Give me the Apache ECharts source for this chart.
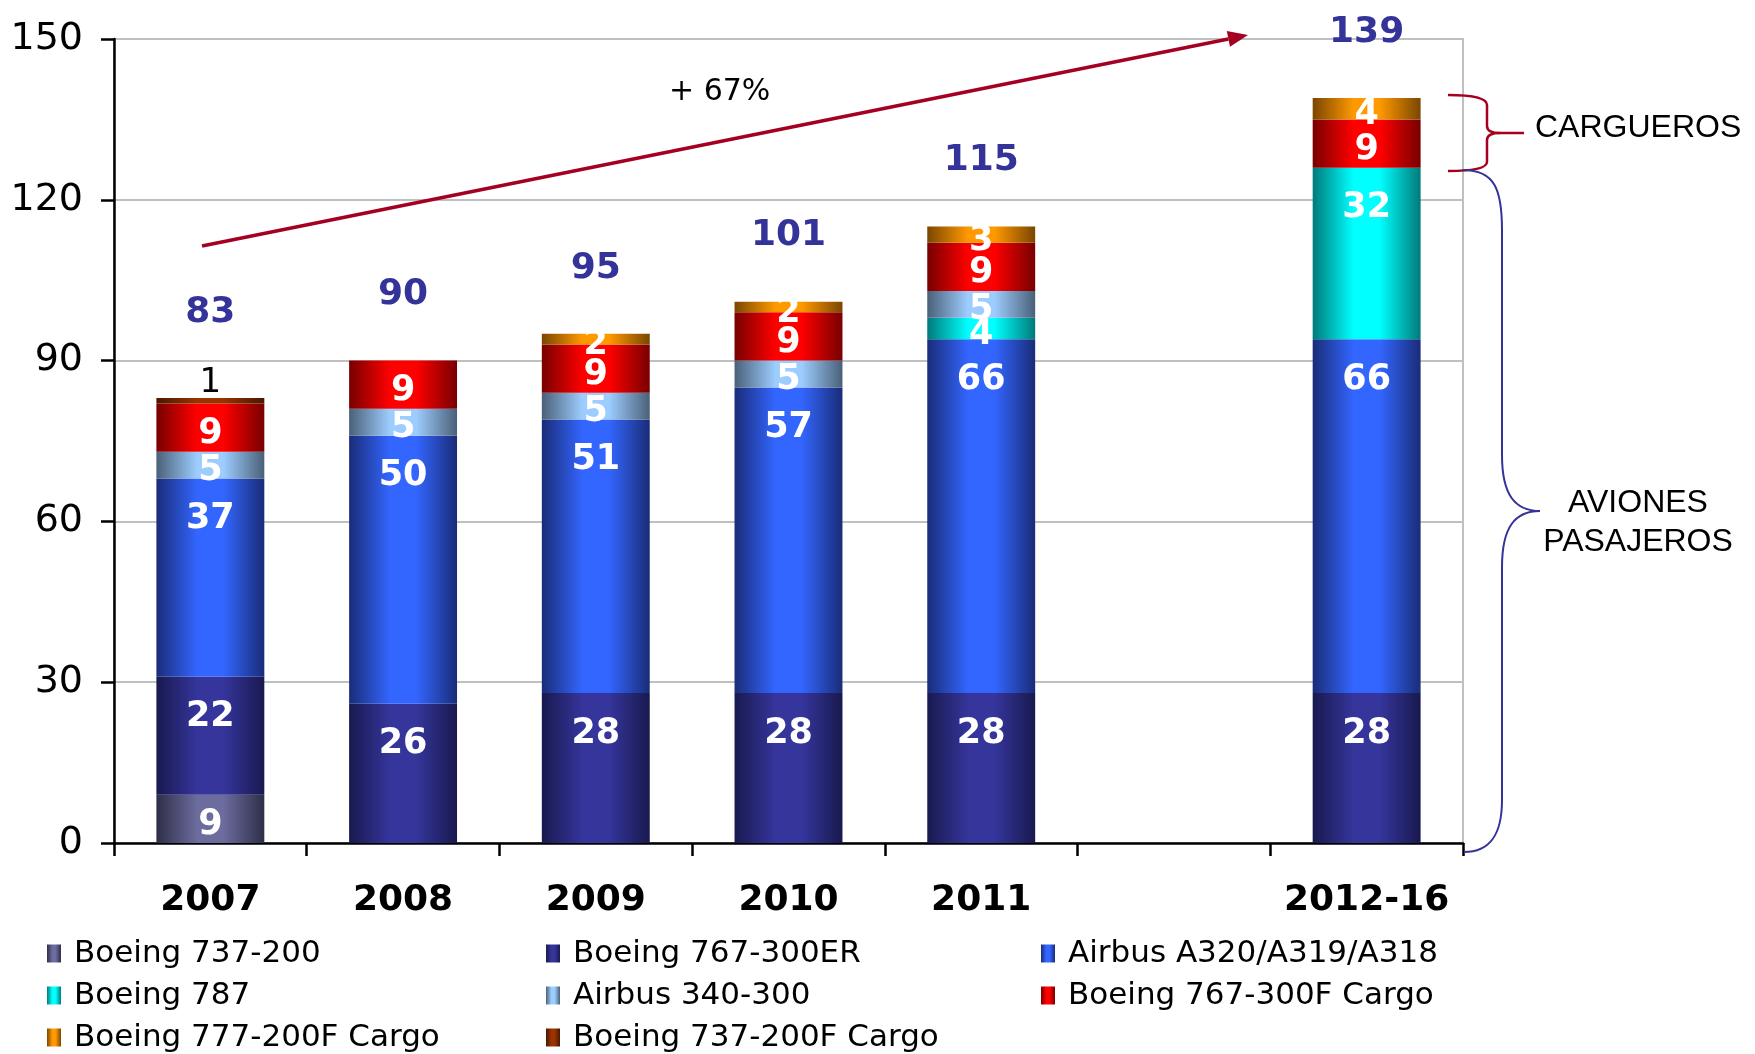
<!DOCTYPE html>
<html>
<head>
<meta charset="utf-8">
<script src="https://cdn.jsdelivr.net/npm/echarts@6/dist/echarts.min.js"></script>
<style>
html,body{margin:0;padding:0;background:#fff;}
#chart{width:1755px;height:1054px;}
</style>
</head>
<body>
<div id="chart"></div>
<script>
// ---- data ----
const categories = ['2007', '2008', '2009', '2010', '2011', '', '2012-16'];
const boeing737_200   = [9, null, null, null, null, null, null];
const boeing767_300ER = [22, 26, 28, 28, 28, null, 28];
const airbusA320      = [37, 50, 51, 57, 66, null, 66];
const boeing787       = [null, null, null, null, 4, null, 32];
const airbus340_300   = [5, 5, 5, 5, 5, null, null];
const boeing767F      = [9, 9, 9, 9, 9, null, 9];
const boeing777F      = [null, null, 2, 2, 3, null, 4];
const boeing737F      = [1, null, null, null, null, null, null];
const totals          = [83, 90, 95, 101, 115, null, 139];
const yTicks = [0, 30, 60, 90, 120, 150];

const seriesNames = [
  'Boeing 737-200', 'Boeing 767-300ER', 'Airbus A320/A319/A318',
  'Boeing 787', 'Airbus 340-300', 'Boeing 767-300F Cargo',
  'Boeing 777-200F Cargo', 'Boeing 737-200F Cargo'
];
const seriesValues = [boeing737_200, boeing767_300ER, airbusA320, boeing787,
  airbus340_300, boeing767F, boeing777F, boeing737F];
// [edge, centre] colours for the cylinder-like gradient
const seriesColors = [
  ['#2e2e48', '#6c6c9e'],
  ['#19194f', '#35359c'],
  ['#1a2c78', '#3366ff'],
  ['#007a7a', '#00ffff'],
  ['#4a6078', '#9dcdff'],
  ['#780000', '#ff0000'],
  ['#7a4600', '#ff9900'],
  ['#4a1800', '#993300']
];

function grad(c) {
  return new echarts.graphic.LinearGradient(0, 0, 1, 0, [
    {offset: 0, color: c[0]},
    {offset: 0.38, color: c[1]},
    {offset: 0.62, color: c[1]},
    {offset: 1, color: c[0]}
  ]);
}

const FONT = 'DejaVu Sans';

const barSeries = seriesNames.map((name, si) => {
  const isTopSmall = si === 7;
  return {
    name: name,
    type: 'bar',
    stack: 'fleet',
    barWidth: '56%',
    itemStyle: {color: grad(seriesColors[si])},
    label: isTopSmall ? {
      show: true, position: 'top', distance: -2, color: '#000',
      fontFamily: FONT, fontSize: 34, fontWeight: 'normal'
    } : {
      show: true, color: '#fff', fontFamily: FONT, fontSize: 35, fontWeight: 'bold'
    },
    data: seriesValues[si].map(v => {
      if (v == null) return null;
      if (isTopSmall) return v;
      return v >= 15
        ? {value: v, label: {position: 'insideTop', distance: 23}}
        : {value: v, label: {position: 'inside', offset: [0, 6]}};
    })
  };
});

const totalSeries = {
  name: 'Total',
  type: 'scatter',
  symbolSize: 1,
  itemStyle: {color: 'rgba(0,0,0,0)', opacity: 1},
  z: 10,
  label: {
    show: true, position: 'top', distance: 47, color: '#333399',
    fontFamily: FONT, fontSize: 36, fontWeight: 'bold'
  },
  data: totals.map((v, i) => (i === 0 ? {value: v, label: {distance: 67}} : v))
};

const legendBase = {
  orient: 'vertical',
  top: 938,
  padding: 0,
  height: 200,
  itemWidth: 14,
  itemHeight: 18,
  itemGap: 11,
  selectedMode: false,
  icon: 'rect',
  textStyle: {fontFamily: FONT, fontSize: 31, color: '#000', lineHeight: 30, padding: [0, 0, 0, 8]}
};

const chart = echarts.init(document.getElementById('chart'), null, {renderer: 'canvas'});

// arrow geometry (annotation)
const ax0 = 202, ay0 = 246, tipX = 1248, tipY = 35;
const dx = tipX - ax0, dy = tipY - ay0, len = Math.hypot(dx, dy);
const ux = dx / len, uy = dy / len, px = -uy, py = ux;
const bx = tipX - 20 * ux, by = tipY - 20 * uy;

const RED = '#a50021', NAVY = '#333399';
function ln(x1, y1, x2, y2, c, w) {
  return {type: 'line', z: 100, shape: {x1, y1, x2, y2}, style: {stroke: c, lineWidth: w}};
}
function qc(x1, y1, cx, cy, x2, y2, c, w) {
  return {type: 'bezierCurve', z: 100, shape: {x1, y1, cpx1: cx, cpy1: cy, x2, y2}, style: {stroke: c, lineWidth: w, fill: null}};
}
function cc(x1, y1, c1x, c1y, c2x, c2y, x2, y2, c, w) {
  return {type: 'bezierCurve', z: 100, shape: {x1, y1, cpx1: c1x, cpy1: c1y, cpx2: c2x, cpy2: c2y, x2, y2}, style: {stroke: c, lineWidth: w, fill: null}};
}
function txt(x, y, text, font, align) {
  return {type: 'text', z: 100, x: x, y: y,
    style: {text: text, fill: '#000', font: font, align: align || 'left', verticalAlign: 'middle', lineHeight: 39}};
}

chart.setOption({
  animation: false,
  backgroundColor: '#fff',
  grid: {
    left: 114, right: 292, top: 39, bottom: 211,
    show: true, borderColor: '#c0c0c0', borderWidth: 2, backgroundColor: 'transparent'
  },
  legend: [
    Object.assign({}, legendBase, {left: 47, data: [seriesNames[0], seriesNames[3], seriesNames[6]]}),
    Object.assign({}, legendBase, {left: 546, data: [seriesNames[1], seriesNames[4], seriesNames[7]]}),
    Object.assign({}, legendBase, {left: 1041, data: [seriesNames[2], seriesNames[5]]})
  ],
  xAxis: {
    type: 'category',
    data: categories,
    boundaryGap: true,
    axisLine: {lineStyle: {color: '#000', width: 2.5}},
    axisTick: {show: true, length: 13, lineStyle: {color: '#000', width: 2.5}},
    axisLabel: {
      margin: 40, color: '#000', fontFamily: FONT, fontSize: 36, fontWeight: 'bold',
      interval: 0
    },
    splitLine: {show: false}
  },
  yAxis: {
    type: 'value',
    min: yTicks[0],
    max: yTicks[yTicks.length - 1],
    interval: yTicks[1] - yTicks[0],
    axisLine: {show: true, lineStyle: {color: '#000', width: 2.5}},
    axisTick: {show: true, length: 13, lineStyle: {color: '#000', width: 2.5}},
    axisLabel: {margin: 31, color: '#000', fontFamily: FONT, fontSize: 38},
    splitLine: {show: true, lineStyle: {color: '#c0c0c0', width: 2}}
  },
  series: barSeries.concat([totalSeries]),
  graphic: [
    ln(ax0, ay0, bx, by, RED, 3.5),
    {
      type: 'polygon', z: 100,
      shape: {points: [[tipX, tipY], [bx + 8 * px, by + 8 * py], [bx - 8 * px, by - 8 * py]]},
      style: {fill: RED}
    },
    txt(669, 92, '+ 67%', '30px "DejaVu Sans"'),
    // CARGUEROS brace
    qc(1448, 95, 1487, 95, 1487, 105, RED, 2.5),
    ln(1487, 105, 1487, 126, RED, 2.5),
    qc(1487, 126, 1487, 133, 1500, 133, RED, 2.5),
    ln(1500, 133, 1524, 133, RED, 2.5),
    qc(1500, 133, 1487, 133, 1487, 140, RED, 2.5),
    ln(1487, 140, 1487, 162, RED, 2.5),
    qc(1487, 162, 1487, 171, 1448, 171, RED, 2.5),
    // AVIONES PASAJEROS brace
    cc(1463, 170, 1495, 170, 1502, 190, 1502, 230, NAVY, 2),
    ln(1502, 230, 1502, 455, NAVY, 2),
    cc(1502, 455, 1502, 495, 1515, 511, 1540, 511, NAVY, 2),
    cc(1540, 511, 1515, 511, 1502, 527, 1502, 567, NAVY, 2),
    ln(1502, 567, 1502, 800, NAVY, 2),
    cc(1502, 800, 1502, 835, 1490, 852, 1464, 852, NAVY, 2),
    txt(1535, 128, 'CARGUEROS', '32px "Liberation Sans"'),
    txt(1638, 503, 'AVIONES', '32px "Liberation Sans"', 'center'),
    txt(1638, 542, 'PASAJEROS', '32px "Liberation Sans"', 'center')
  ]
});
</script>
</body>
</html>
